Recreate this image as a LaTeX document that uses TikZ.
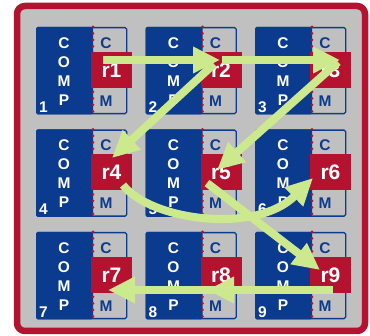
\documentclass[tikz,border=0pt]{standalone}
\usepackage{fontspec}
\setmainfont{Liberation Sans}
\usetikzlibrary{arrows.meta,positioning,calc}
\definecolor{cBlue}{HTML}{0B3B8F}
\definecolor{cRed}{HTML}{B5122F}
\definecolor{cGrey}{HTML}{C0C0C0}
\definecolor{cGreen}{HTML}{CDE98E}
\tikzset{
  frame/.style = {draw=cRed, fill=cGrey, line width=6.5pt, rounded corners=8pt},
  core/.style  = {draw=cBlue, fill=cGrey, line width=1.3pt, rounded corners=1.5pt,
                  minimum width=90pt, minimum height=86pt, inner sep=0pt, anchor=north west},
  dots/.style  = {draw=cRed, line width=3pt, line cap=round, dash pattern=on 0pt off 6.5pt},
  ltr/.style   = {text=white, font=\fontsize{15.5}{15.5}\selectfont\bfseries, inner sep=0pt},
  ltrb/.style  = {ltr, text=cBlue},
  rbox/.style  = {fill=cRed, text=white, minimum width=41pt, minimum height=36pt,
                  inner sep=0pt, font=\fontsize{21}{21}\selectfont\bfseries},
  flow/.style  = {draw=cGreen, line width=8pt, -{Triangle[length=27pt,width=25pt]}},
}
\begin{document}
\begin{tikzpicture}[x=1pt, y=-1pt]
  \useasboundingbox (0,0) rectangle (370,336);
  \draw[frame] (17,6) rectangle (365,331);
  % the nine cores
  \foreach \n/\i/\j in {1/0/0,2/1/0,3/2/0,4/0/1,5/1/1,6/2/1,7/0/2,8/1/2,9/2/2}{
    \node[core] (m\n) at ({36+109.5*\i},{27+102.5*\j}) {};
    \fill[cBlue, rounded corners=1.5pt] (m\n.north west) rectangle ([xshift=57pt]m\n.south west);
    \draw[dots] ([xshift=57pt]m\n.north west) -- ([xshift=57pt]m\n.south west);
    \foreach \k/\t/\dy in {1/C/16,2/O/35,3/M/54,4/P/73}
      \node[ltr] (m\n-l\k) at ([shift={(28,\dy)}]m\n.north west) {\t};
    \node[ltrb] (m\n-c) at ([shift={(70,16)}]m\n.north west) {C};
    \node[ltrb] (m\n-m) at ([shift={(70,74)}]m\n.north west) {M};
    \node[ltr] (m\n-id) at ([shift={(7.5,80)}]m\n.north west) {\n};
    \node[rbox] (r\n) at ([shift={(75.5,43)}]m\n.north west) {r\n};
  }
  % routing
  \draw[flow] ([shift={(-8.5,-10)}]r1.center) -- ([shift={(-1,-10)}]r2.center);
  \draw[flow] ([shift={(-7,-6)}]r2.center) -- ([shift={(0.5,-14.5)}]r4.center);
  \draw[flow] ([shift={(7.5,-8)}]r3.center) -- ([shift={(-4,-2.5)}]r5.center);
  \draw[flow] ([shift={(1,-10)}]r2.center) -- ([shift={(9.5,-10)}]r3.center);
  \draw[flow] ([shift={(11.5,12.5)}]r4.center) .. controls +(27,35) and +(-58,57) .. ([shift={(-17.5,5.5)}]r6.center);
  \draw[flow] ([shift={(-14,10.5)}]r5.center) -- ([shift={(-10.5,-5)}]r9.center);
  \draw[flow] ([shift={(4,15)}]r8.center) -- ([shift={(-3.5,15)}]r7.center);
  \draw[flow] ([shift={(2.5,15)}]r9.center) -- ([shift={(-14,15)}]r8.center);
\end{tikzpicture}
\end{document}
